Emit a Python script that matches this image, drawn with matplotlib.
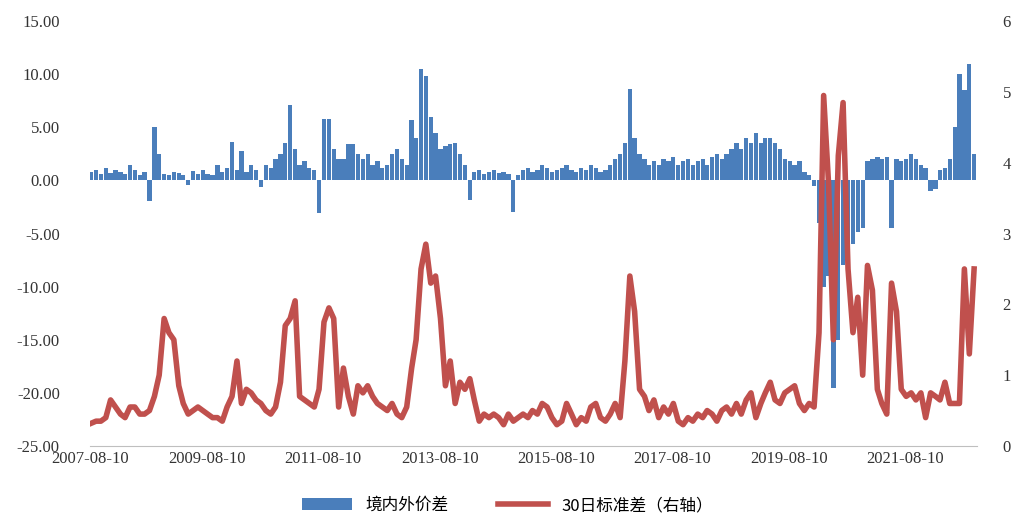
import matplotlib
matplotlib.use("Agg")
import matplotlib.pyplot as plt
import matplotlib.dates as mdates
import numpy as np
import pandas as pd

plt.rcParams['font.family'] = ['Liberation Serif', 'Noto Sans CJK SC']

# monthly readings, starting 2007-08
months = pd.date_range("2007-08-01", periods=183, freq="MS")

# 境内外价差 (left axis)
spread = [0.8, 1.0, 0.6, 1.2, 0.7,
          1.0, 0.8, 0.6, 1.5, 1.0, 0.5, 0.8, -1.9, 5.0, 2.5, 0.6, 0.5,
          0.8, 0.7, 0.5, -0.4, 0.9, 0.6, 1.0, 0.6, 0.5, 1.5, 0.8, 1.2,
          3.6, 1.0, 2.8, 0.8, 1.5, 1.0, -0.6, 1.5, 1.2, 2.0, 2.5, 3.5,
          7.1, 3.0, 1.5, 1.8, 1.2, 1.0, -3.1, 5.8, 5.8, 3.0, 2.0, 2.0,
          3.4, 3.4, 2.5, 2.0, 2.5, 1.5, 1.8, 1.2, 1.5, 2.5, 3.0, 2.0,
          1.5, 5.7, 4.0, 10.5, 9.8, 6.0, 4.5, 3.0, 3.2, 3.4, 3.5, 2.5,
          1.5, -1.8, 0.8, 1.0, 0.6, 0.8, 1.0, 0.7, 0.8, 0.6, -3.0, 0.5,
          1.0, 1.2, 0.8, 1.0, 1.5, 1.2, 0.8, 1.0, 1.2, 1.5, 1.0, 0.8,
          1.2, 1.0, 1.5, 1.2, 0.8, 1.0, 1.5, 2.0, 2.5, 3.5, 8.6, 4.0,
          2.5, 2.0, 1.5, 1.8, 1.5, 2.0, 1.8, 2.2, 1.5, 1.8, 2.0, 1.5,
          1.8, 2.0, 1.5, 2.2, 2.5, 2.0, 2.5, 3.0, 3.5, 3.0, 4.0, 3.5,
          4.5, 3.5, 4.0, 4.0, 3.5, 3.0, 2.0, 1.8, 1.5, 1.8, 0.8, 0.5,
          -0.5, -4.0, -10.0, -9.0, -19.5, -15.0, -8.0, -6.0, -6.0, -4.9, -4.5, 1.8,
          2.0, 2.2, 2.0, 2.2, -4.5, 2.0, 1.8, 2.0, 2.5, 2.0, 1.5, 1.2,
          -1.0, -0.8, 1.0, 1.2, 2.0, 5.0, 10.0, 8.5, 11.0, 2.5]

# 30日标准差 (right axis)
std30 = [0.32, 0.35, 0.35, 0.40, 0.65,
         0.55, 0.45, 0.40, 0.55, 0.55, 0.45, 0.45, 0.50, 0.70, 1.00, 1.80, 1.60,
         1.50, 0.85, 0.60, 0.45, 0.50, 0.55, 0.50, 0.45, 0.40, 0.40, 0.35, 0.55,
         0.70, 1.20, 0.60, 0.80, 0.75, 0.65, 0.60, 0.50, 0.45, 0.55, 0.90, 1.70,
         1.80, 2.05, 0.70, 0.65, 0.60, 0.55, 0.80, 1.75, 1.95, 1.80, 0.55, 1.10,
         0.70, 0.45, 0.85, 0.75, 0.85, 0.70, 0.60, 0.55, 0.50, 0.60, 0.45, 0.40,
         0.55, 1.10, 1.50, 2.50, 2.85, 2.30, 2.40, 1.80, 0.85, 1.20, 0.60, 0.90,
         0.80, 0.95, 0.65, 0.35, 0.45, 0.40, 0.45, 0.40, 0.30, 0.45, 0.35, 0.40,
         0.45, 0.40, 0.50, 0.45, 0.60, 0.55, 0.40, 0.30, 0.35, 0.60, 0.45, 0.30,
         0.40, 0.35, 0.55, 0.60, 0.40, 0.35, 0.45, 0.60, 0.40, 1.20, 2.40, 1.90,
         0.80, 0.70, 0.50, 0.65, 0.40, 0.55, 0.45, 0.60, 0.35, 0.30, 0.40, 0.35,
         0.45, 0.40, 0.50, 0.45, 0.35, 0.50, 0.55, 0.45, 0.60, 0.45, 0.65, 0.75,
         0.40, 0.60, 0.75, 0.90, 0.65, 0.60, 0.75, 0.80, 0.85, 0.60, 0.50, 0.60,
         0.55, 1.60, 4.95, 3.70, 1.50, 4.10, 4.85, 2.50, 1.60, 2.10, 1.00, 2.55,
         2.20, 0.80, 0.60, 0.45, 2.30, 1.90, 0.80, 0.70, 0.75, 0.65, 0.75, 0.40,
         0.75, 0.70, 0.65, 0.90, 0.60, 0.60, 0.60, 2.50, 1.30, 2.50]

tick_dates = pd.to_datetime(["2007-08-10", "2009-08-10", "2011-08-10", "2013-08-10",
                             "2015-08-10", "2017-08-10", "2019-08-10", "2021-08-10"])

fig = plt.figure(figsize=(10.15, 5.29), dpi=100)
ax = fig.add_axes([0.089, 0.157, 0.874, 0.803])
ax2 = ax.twinx()

bars = ax.bar(months + pd.Timedelta(days=14), spread, width=27, color="#4a7ebb", label="境内外价差")
line, = ax2.plot(months + pd.Timedelta(days=14), std30, color="#c0504d", lw=4,
                 solid_joinstyle="round", label="30日标准差（右轴）")

ax.set_ylim(-25, 15)
ax.set_yticks(np.arange(-25, 16, 5))
ax.yaxis.set_major_formatter(plt.FuncFormatter(lambda v, p: f"{v:.2f}"))
ax2.set_ylim(0, 6)
ax2.set_yticks(range(7))
ax.set_xlim(pd.Timestamp("2007-08-10"), pd.Timestamp("2022-11-05"))
ax.set_xticks(tick_dates)
ax.xaxis.set_major_formatter(mdates.DateFormatter("%Y-%m-%d"))

for a in (ax, ax2):
    for s in a.spines.values():
        s.set_visible(False)
    a.tick_params(length=0, labelsize=12, colors="#333333")
ax.spines["bottom"].set_visible(True)
ax.spines["bottom"].set_color("#bfbfbf")
ax.tick_params(axis="y", pad=22)
ax2.tick_params(axis="y", pad=18)

fig.legend(handles=[bars, line], loc="lower center", bbox_to_anchor=(0.5, 0.0), ncol=2,
           frameon=False, handlelength=3.0, columnspacing=3,
           prop={"family": ["Noto Sans CJK SC"], "size": 12})

fig.savefig("out.png", dpi=100)
